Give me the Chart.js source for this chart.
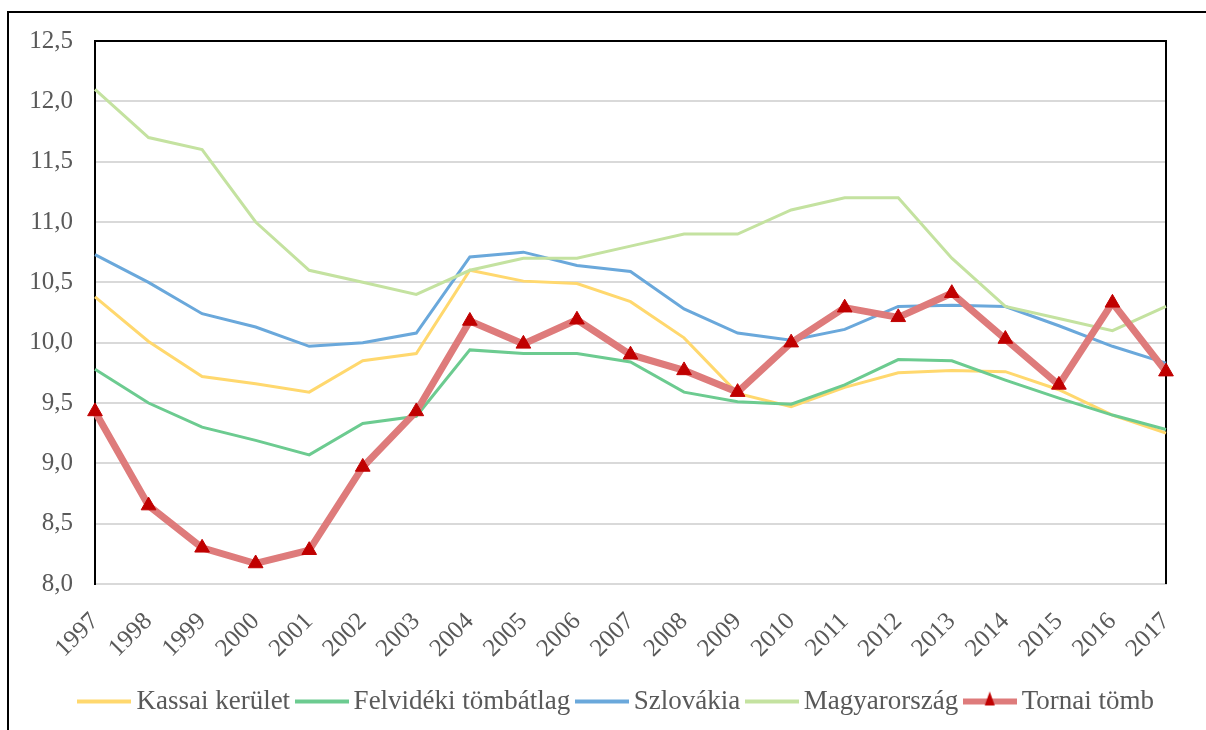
<!DOCTYPE html>
<html>
<head>
<meta charset="utf-8">
<script src="https://cdn.jsdelivr.net/npm/chart.js@4/dist/chart.umd.min.js"></script>
<style>
  html, body { margin: 0; padding: 0; background: #ffffff; overflow: hidden; }
  #wrap { position: relative; width: 1206px; height: 730px; }
  #frame { position: absolute; left: 7px; top: 11px; width: 1300px; height: 1000px; border: 2px solid #000; box-sizing: border-box; pointer-events: none; }
  canvas { position: absolute; left: 0; top: 0; }
</style>
</head>
<body>
<div id="wrap">
  <canvas id="c" width="1206" height="730"></canvas>
  <div id="frame"></div>
</div>
<script>
const years = ['1997','1998','1999','2000','2001','2002','2003','2004','2005','2006','2007','2008','2009','2010','2011','2012','2013','2014','2015','2016','2017'];
const seriesNames = ['Kassai kerület', 'Felvidéki tömbátlag', 'Szlovákia', 'Magyarország', 'Tornai tömb'];
const kassai    = [10.38, 10.01, 9.72, 9.66, 9.59, 9.85, 9.91, 10.60, 10.51, 10.49, 10.34, 10.04, 9.58, 9.47, 9.63, 9.75, 9.77, 9.76, 9.61, 9.40, 9.25];
const felvideki = [9.78, 9.50, 9.30, 9.19, 9.07, 9.33, 9.39, 9.94, 9.91, 9.91, 9.84, 9.59, 9.51, 9.49, 9.65, 9.86, 9.85, 9.69, 9.54, 9.40, 9.28];
const szlovakia = [10.73, 10.50, 10.24, 10.13, 9.97, 10.00, 10.08, 10.71, 10.75, 10.64, 10.59, 10.28, 10.08, 10.02, 10.11, 10.30, 10.31, 10.30, 10.14, 9.97, 9.83];
const magyar    = [12.1, 11.7, 11.6, 11.0, 10.6, 10.5, 10.4, 10.6, 10.7, 10.7, 10.8, 10.9, 10.9, 11.1, 11.2, 11.2, 10.7, 10.3, 10.2, 10.1, 10.3];
const tornai    = [9.43, 8.65, 8.30, 8.17, 8.28, 8.97, 9.43, 10.18, 9.99, 10.19, 9.90, 9.77, 9.59, 10.00, 10.29, 10.21, 10.41, 10.03, 9.65, 10.33, 9.76];
const yMin = 8.0, yMax = 12.5, yStep = 0.5;

const colors = ['#FFD86E', '#6CCB90', '#6AA8DB', '#C4E2A0', '#DE7B7B'];
const markerColor = '#C00000';

function legendImg(color, withMarker) {
  const cv = document.createElement('canvas');
  cv.width = 54; cv.height = 22;
  const g = cv.getContext('2d');
  g.strokeStyle = color;
  g.lineWidth = withMarker ? 6 : 4;
  g.beginPath(); g.moveTo(0, 11); g.lineTo(54, 11); g.stroke();
  if (withMarker) {
    g.fillStyle = markerColor;
    g.beginPath(); g.moveTo(27, 1); g.lineTo(32, 15); g.lineTo(22, 15); g.closePath(); g.fill();
  }
  return cv;
}

const plotBorder = {
  id: 'plotBorder',
  beforeDatasetsDraw(chart) {
    const a = chart.chartArea, ctx = chart.ctx;
    ctx.save();
    ctx.strokeStyle = '#000';
    ctx.lineWidth = 2;
    ctx.beginPath();
    ctx.moveTo(a.left, a.bottom); ctx.lineTo(a.left, a.top); ctx.lineTo(a.right, a.top); ctx.lineTo(a.right, a.bottom);
    ctx.stroke();
    ctx.restore();
  }
};

Chart.defaults.font.family = '"Liberation Serif", "Times New Roman", serif';
Chart.defaults.color = '#595959';

const datasets = [kassai, felvideki, szlovakia, magyar, tornai].map((d, i) => {
  const isT = i === 4;
  return {
    label: seriesNames[i],
    data: d,
    yAxisID: 'y',
    borderColor: colors[i],
    backgroundColor: colors[i],
    borderWidth: isT ? 7 : 3,
    pointRadius: isT ? 8.5 : 0,
    pointStyle: 'triangle',
    pointBackgroundColor: markerColor,
    pointBorderColor: markerColor,
    pointBorderWidth: 1,
    tension: 0,
    order: isT ? 0 : 5 - i
  };
});

new Chart(document.getElementById('c'), {
  type: 'line',
  data: { labels: years, datasets },
  options: {
    responsive: false,
    animation: false,
    devicePixelRatio: 1,
    layout: { padding: { left: 24, right: -10, top: 41, bottom: 5 } },
    plugins: {
      tooltip: { enabled: false },
      legend: {
        position: 'bottom',
        labels: {
          usePointStyle: true,
          pointStyleWidth: 37,
          padding: 13,
          font: { size: 27 },
          color: '#595959',
          generateLabels(chart) {
            return chart.data.datasets.map((ds, i) => ({
              text: ds.label,
              pointStyle: legendImg(colors[i], i === 4),
              fillStyle: colors[i],
              strokeStyle: colors[i],
              lineWidth: 0,
              hidden: false,
              datasetIndex: i,
              fontColor: '#595959'
            }));
          }
        }
      }
    },
    scales: {
      x: {
        grid: { display: false, drawTicks: false },
        border: { display: true, color: '#d9d9d9', width: 2 },
        ticks: { minRotation: 45, maxRotation: 45, autoSkip: false, padding: 23, font: { size: 25 }, color: '#595959' },
        afterFit(s) { s.height = 91; s.paddingLeft = 0; s.paddingRight = 0; }
      },
      y: {
        position: 'left',
        min: yMin, max: yMax,
        grid: { color: '#d9d9d9', lineWidth: 2, drawTicks: false },
        border: { display: true, color: '#000', width: 2 },
        ticks: { stepSize: yStep, padding: 22, font: { size: 25 }, color: '#595959',
          callback: v => v.toFixed(1).replace('.', ',') },
        afterFit(s) { s.width = 71; }
      },
      yRight: {
        position: 'right',
        min: yMin, max: yMax,
        grid: { display: false, drawTicks: false },
        border: { display: false },
        ticks: { display: false },
        afterFit(s) { s.width = 50; }
      }
    }
  },
  plugins: [plotBorder]
});
</script>
</body>
</html>
